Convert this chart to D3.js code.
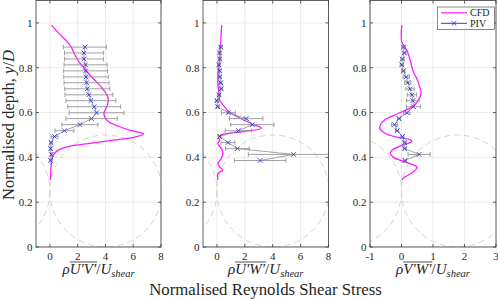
<!DOCTYPE html>
<html>
<head>
<meta charset="utf-8">
<script src="https://cdn.jsdelivr.net/npm/d3@7"></script>
<style>
body { margin: 0; background: #fff; }
svg { display: block; font-family: "Liberation Serif", "DejaVu Serif", serif; }
</style>
</head>
<body>
<div id="chart"></div>
<script>
// PIV depths (y/D), shared by the three panels
const pivDepth = [0.892, 0.866, 0.839, 0.813, 0.786, 0.759, 0.733, 0.706, 0.679, 0.653,
    0.626, 0.599, 0.573, 0.546, 0.519, 0.493, 0.466, 0.439, 0.413, 0.386];

// PIV values and error half widths
const pivUV = [2.52, 2.45, 2.45, 2.57, 2.57, 2.6, 2.64, 2.69, 2.81, 2.95, 3.19, 3.36, 3.0, 2.16, 1.05, 0.33, 0.08, 0.05, 0.1, 0.05];
const pivUVErr = [1.55, 1.4, 1.4, 1.55, 1.58, 1.6, 1.62, 1.62, 1.72, 1.8, 1.9, 1.98, 1.85, 1.3, 0.68, 0.25, 0.08, 0.05, 0.05, 0.05];
const pivUW = [0.27, 0.19, 0.2, 0.14, 0.19, 0.2, 0.27, 0.31, 0.16, 0.0, 0.05, 0.82, 2.1, 2.54, 1.54, 0.19, 0.79, 1.47, 5.5, 3.1];
const pivUWErr = [0.1, 0.1, 0.1, 0.1, 0.1, 0.1, 0.1, 0.1, 0.1, 0.1, 0.1, 0.5, 1.2, 1.55, 0.95, 0.1, 0.5, 0.85, 3.25, 1.85];
const pivVW = [0.06, 0.09, 0.03, 0.01, 0.06, 0.15, 0.2, 0.27, 0.33, 0.36, 0.38, 0.17, -0.08, -0.22, -0.14, 0.03, 0.1, 0.1, 0.56, 0.11];
const pivVWErr = [0.05, 0.05, 0.05, 0.05, 0.05, 0.1, 0.1, 0.13, 0.15, 0.2, 0.22, 0.1, 0.05, 0.1, 0.05, 0.05, 0.05, 0.05, 0.35, 0.05];

// CFD profiles
const cfdDepthUV = [0.99, 0.95, 0.92, 0.89, 0.86, 0.83, 0.80, 0.77, 0.74, 0.71, 0.68, 0.66, 0.64, 0.62, 0.60, 0.58, 0.56,
    0.54, 0.52, 0.505, 0.49, 0.48, 0.47, 0.46, 0.45, 0.44, 0.43, 0.41, 0.39, 0.37, 0.33, 0.30];
const cfdUV = [0.12, 0.7, 1.2, 1.56, 1.78, 2.05, 2.45, 2.85, 3.3, 3.75, 4.1, 4.2, 4.17, 4.05, 3.9, 3.95, 4.2,
    4.9, 5.8, 6.76, 6.1, 5.0, 3.8, 2.6, 1.44, 0.9, 0.55, 0.24, 0.15, 0.1, 0.06, 0.05];

const cfdDepthUW = [0.99, 0.95, 0.91, 0.87, 0.83, 0.79, 0.76, 0.72, 0.70, 0.67, 0.655, 0.64, 0.625, 0.605, 0.59, 0.57, 0.55,
    0.53, 0.515, 0.50, 0.49, 0.477, 0.462, 0.44, 0.417, 0.395, 0.373, 0.358, 0.343, 0.328, 0.30];
const cfdUW = [0.34, 0.3, 0.27, 0.22, 0.18, 0.1, 0.07, 0.08, 0.12, 0.16, 0.2, 0.35, 0.55, 0.85, 1.2, 1.8, 2.5,
    3.2, 1.9, 0.3, 0.12, 0.19, 0.07, 0.31, 0.43, 0.31, 0.07, 0.19, 0.43, 0.07, 0.07];

const cfdDepthVW = [0.99, 0.95, 0.91, 0.89, 0.86, 0.82, 0.78, 0.75, 0.71, 0.69, 0.655, 0.625, 0.605, 0.59, 0.57, 0.55, 0.53,
    0.51, 0.49, 0.478, 0.47, 0.46, 0.45, 0.435, 0.418, 0.40, 0.385, 0.37, 0.358, 0.345, 0.328, 0.31, 0.30];
const cfdVW = [0.01, -0.01, 0.02, 0.12, 0.22, 0.3, 0.38, 0.49, 0.59, 0.62, 0.54, 0.33, 0.05, -0.2, -0.5, -0.65, -0.69,
    -0.55, -0.16, 0.3, 0.32, 0.15, -0.05, -0.28, -0.36, -0.25, 0.0, 0.3, 0.49, 0.45, 0.3, 0.08, 0.01];

// ticks
const yTicks = [0, 0.2, 0.4, 0.6, 0.8, 1];
const xTicksA = [0, 2, 4, 6, 8];
const xTicksB = [-1, 0, 1, 2, 3];

const panels = [
    { left: 36, right: 161, domain: [-1, 8], ticks: xTicksA, piv: pivUV, err: pivUVErr, cfdY: cfdDepthUV, cfd: cfdUV, label: "U′V′" },
    { left: 203, right: 328.5, domain: [-1, 8], ticks: xTicksA, piv: pivUW, err: pivUWErr, cfdY: cfdDepthUW, cfd: cfdUW, label: "U′W′" },
    { left: 370, right: 496, domain: [-1, 3], ticks: xTicksB, piv: pivVW, err: pivVWErr, cfdY: cfdDepthVW, cfd: cfdVW, label: "V′W′" }
];

const width = 498, height = 299;
const plotTop = 0.5, plotBottom = 247;
const magenta = "#ff1aff", blue = "#3535e0", grey = "#8a8a8a";

const svg = d3.select("#chart").append("svg")
    .attr("width", width)
    .attr("height", height);

const y = d3.scaleLinear().domain([0, 1.1]).range([plotBottom, plotTop]);

panels.forEach((p, i) => {
    const x = d3.scaleLinear().domain(p.domain).range([p.left, p.right]);
    const g = svg.append("g");

    g.append("clipPath").attr("id", "clip" + i)
        .append("rect")
        .attr("x", p.left).attr("y", plotTop)
        .attr("width", p.right - p.left).attr("height", plotBottom - plotTop);

    // grid
    g.append("g").selectAll("line").data(p.ticks).join("line")
        .attr("x1", d => x(d)).attr("x2", d => x(d))
        .attr("y1", plotTop).attr("y2", plotBottom)
        .attr("stroke", "#e4e4e4").attr("stroke-width", 0.7);
    g.append("g").selectAll("line").data(yTicks).join("line")
        .attr("x1", p.left).attr("x2", p.right)
        .attr("y1", d => y(d)).attr("y2", d => y(d))
        .attr("stroke", "#e4e4e4").attr("stroke-width", 0.7);

    const inner = g.append("g").attr("clip-path", `url(#clip${i})`);

    // dashed pipe outlines
    const r = y(0) - y(0.25);
    const cx0 = x(0);
    inner.selectAll("circle").data([cx0 - r, cx0 + r, cx0 + 3 * r]).join("circle")
        .attr("cx", d => d).attr("cy", y(0.25)).attr("r", r)
        .attr("fill", "none")
        .attr("stroke", "#d4d4d4").attr("stroke-width", 1)
        .attr("stroke-dasharray", "6,4");

    // CFD line
    const cfdPts = p.cfd.map((v, k) => [v, p.cfdY[k]]);
    inner.append("path")
        .datum(cfdPts)
        .attr("fill", "none")
        .attr("stroke", magenta).attr("stroke-width", 1.3)
        .attr("d", d3.line().x(d => x(d[0])).y(d => y(d[1])).curve(d3.curveCatmullRom));

    // PIV connecting line and error bars
    const pivPts = p.piv.map((v, k) => ({ v, e: p.err[k], d: pivDepth[k] }));
    inner.append("path")
        .datum(pivPts)
        .attr("fill", "none")
        .attr("stroke", grey).attr("stroke-width", 0.8)
        .attr("d", d3.line().x(d => x(d.v)).y(d => y(d.d)));

    const eb = inner.append("g").attr("stroke", grey).attr("stroke-width", 0.8);
    pivPts.forEach(d => {
        const yy = y(d.d);
        eb.append("line").attr("x1", x(d.v - d.e)).attr("x2", x(d.v + d.e)).attr("y1", yy).attr("y2", yy);
        eb.append("line").attr("x1", x(d.v - d.e)).attr("x2", x(d.v - d.e)).attr("y1", yy - 2.3).attr("y2", yy + 2.3);
        eb.append("line").attr("x1", x(d.v + d.e)).attr("x2", x(d.v + d.e)).attr("y1", yy - 2.3).attr("y2", yy + 2.3);
    });

    // PIV markers
    const s = 2.3;
    inner.append("g").selectAll("path").data(pivPts).join("path")
        .attr("d", d => {
            const px = x(d.v), py = y(d.d);
            return `M${px - s},${py - s}L${px + s},${py + s}M${px - s},${py + s}L${px + s},${py - s}`;
        })
        .attr("stroke", blue).attr("stroke-width", 0.9).attr("fill", "none");

    // frame and ticks
    g.append("rect")
        .attr("x", p.left).attr("y", plotTop)
        .attr("width", p.right - p.left).attr("height", plotBottom - plotTop)
        .attr("fill", "none").attr("stroke", "#3a3a3a").attr("stroke-width", 0.8);

    const tk = g.append("g").attr("stroke", "#3a3a3a").attr("stroke-width", 0.8);
    p.ticks.forEach(t => {
        tk.append("line").attr("x1", x(t)).attr("x2", x(t)).attr("y1", plotBottom).attr("y2", plotBottom - 3);
        tk.append("line").attr("x1", x(t)).attr("x2", x(t)).attr("y1", plotTop).attr("y2", plotTop + 3);
    });
    yTicks.forEach(t => {
        tk.append("line").attr("x1", p.left).attr("x2", p.left + 3).attr("y1", y(t)).attr("y2", y(t));
        tk.append("line").attr("x1", p.right).attr("x2", p.right - 3).attr("y1", y(t)).attr("y2", y(t));
    });

    // tick labels
    g.append("g").selectAll("text").data(p.ticks).join("text")
        .attr("x", d => x(d)).attr("y", 260)
        .attr("text-anchor", "middle")
        .attr("font-size", 11).attr("fill", "#262626")
        .text(d => d);
    g.append("g").selectAll("text").data(yTicks).join("text")
        .attr("x", p.left - 3.5).attr("y", d => y(d)).attr("dy", "0.35em")
        .attr("text-anchor", "end")
        .attr("font-size", 11).attr("fill", "#262626")
        .text(d => d);

    // axis label: rho, overlined pair, / U_shear
    const lab = g.append("text")
        .attr("y", 274)
        .attr("font-size", 15).attr("font-style", "italic").attr("fill", "#262626");
    const t0 = lab.append("tspan").text("ρ");
    const t1 = lab.append("tspan").text(p.label);
    lab.append("tspan").attr("font-style", "normal").text("/");
    lab.append("tspan").text("U");
    lab.append("tspan").attr("font-size", 10.5).attr("dy", 3).text("shear");
    const total = lab.node().getComputedTextLength();
    const start = (p.left + p.right) / 2 - total / 2;
    lab.attr("x", start);
    const w0 = t0.node().getComputedTextLength();
    const w1 = t1.node().getComputedTextLength();
    g.append("line")
        .attr("x1", start + w0).attr("x2", start + w0 + w1 + 1)
        .attr("y1", 262).attr("y2", 262)
        .attr("stroke", "#262626").attr("stroke-width", 0.8);
});

// y label
const yl = svg.append("text")
    .attr("transform", "translate(14,125) rotate(-90)")
    .attr("text-anchor", "middle")
    .attr("font-size", 16.5).attr("fill", "#262626");
yl.append("tspan").text("Normalised depth, ");
yl.append("tspan").attr("font-style", "italic").text("y");
yl.append("tspan").text("/");
yl.append("tspan").attr("font-style", "italic").text("D");

// overall x label
svg.append("text")
    .attr("x", 265.5).attr("y", 294.5)
    .attr("text-anchor", "middle")
    .attr("font-size", 16.8).attr("fill", "#262626")
    .text("Normalised Reynolds Shear Stress");

// legend
const lg = svg.append("g");
lg.append("rect")
    .attr("x", 437.5).attr("y", 7).attr("width", 57).attr("height", 22.5)
    .attr("fill", "#fff").attr("stroke", "#3a3a3a").attr("stroke-width", 0.6);
lg.append("line").attr("x1", 441).attr("x2", 467).attr("y1", 12.8).attr("y2", 12.8)
    .attr("stroke", magenta).attr("stroke-width", 1.2);
lg.append("line").attr("x1", 441).attr("x2", 467).attr("y1", 23.3).attr("y2", 23.3)
    .attr("stroke", blue).attr("stroke-width", 1);
lg.append("path")
    .attr("d", "M451.7,21L456.3,25.6M451.7,25.6L456.3,21")
    .attr("stroke", blue).attr("stroke-width", 0.9);
lg.append("text").attr("x", 470).attr("y", 16.3).attr("font-size", 10).attr("fill", "#262626").text("CFD");
lg.append("text").attr("x", 470).attr("y", 26.8).attr("font-size", 10).attr("fill", "#262626").text("PIV");
</script>
</body>
</html>
